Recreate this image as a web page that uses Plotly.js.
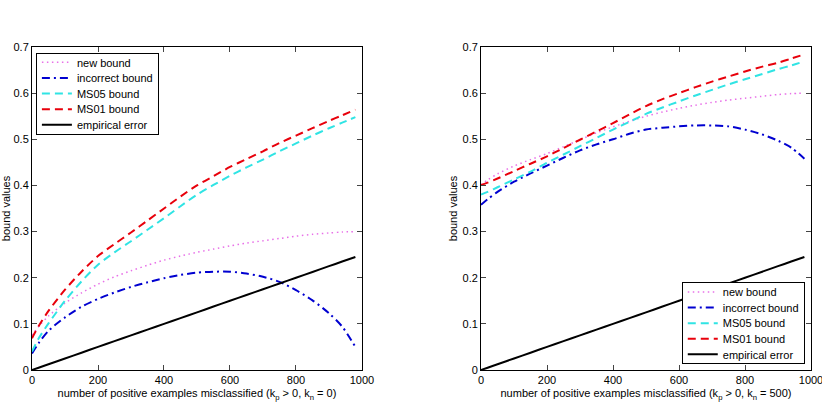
<!DOCTYPE html>
<html>
<head>
<meta charset="utf-8">
<script src="https://cdn.plot.ly/plotly-3.0.1.min.js"></script>
<style>html,body{margin:0;padding:0;background:#fff;overflow:hidden;}#wrap{width:822px;height:410px;overflow:hidden;}#chart{width:835px;height:410px;}</style>
</head>
<body>
<div id="wrap"><div id="chart"></div></div>
<script>
// number of positive examples misclassified
const xVals = [0, 20, 50, 100, 150, 200, 250, 300, 350, 400, 450, 500, 550, 600, 650, 700, 750, 800, 850, 900, 940, 980];

// Left panel: k_p > 0, k_n = 0
const leftNew       = [0.075, 0.094, 0.117, 0.145, 0.167, 0.186, 0.202, 0.215, 0.227, 0.238, 0.247, 0.255, 0.262, 0.269, 0.275, 0.280, 0.285, 0.290, 0.294, 0.297, 0.299, 0.300];
const leftIncorrect = [0.036, 0.058, 0.085, 0.114, 0.137, 0.154, 0.168, 0.180, 0.190, 0.199, 0.206, 0.211, 0.213, 0.213, 0.209, 0.202, 0.191, 0.173, 0.151, 0.123, 0.094, 0.050];
const leftMS05      = [0.040, 0.068, 0.101, 0.150, 0.192, 0.228, 0.255, 0.279, 0.304, 0.329, 0.355, 0.380, 0.401, 0.421, 0.439, 0.456, 0.474, 0.491, 0.508, 0.524, 0.536, 0.548];
const leftMS01      = [0.069, 0.095, 0.128, 0.174, 0.213, 0.247, 0.273, 0.298, 0.324, 0.350, 0.376, 0.400, 0.420, 0.440, 0.457, 0.474, 0.492, 0.508, 0.524, 0.540, 0.552, 0.564];
const leftEmpirical = [0, 0.005, 0.0125, 0.025, 0.0375, 0.05, 0.0625, 0.075, 0.0875, 0.1, 0.1125, 0.125, 0.1375, 0.15, 0.1625, 0.175, 0.1875, 0.2, 0.2125, 0.225, 0.235, 0.245];

// Right panel: k_p > 0, k_n = 500
const rightNew       = [0.401, 0.412, 0.425, 0.442, 0.456, 0.469, 0.484, 0.499, 0.514, 0.527, 0.539, 0.550, 0.559, 0.567, 0.574, 0.580, 0.585, 0.589, 0.593, 0.597, 0.599, 0.600];
const rightIncorrect = [0.358, 0.370, 0.386, 0.408, 0.426, 0.443, 0.460, 0.476, 0.489, 0.500, 0.512, 0.521, 0.525, 0.528, 0.530, 0.530, 0.528, 0.521, 0.511, 0.497, 0.482, 0.458];
const rightMS05      = [0.380, 0.386, 0.396, 0.413, 0.430, 0.449, 0.467, 0.485, 0.503, 0.521, 0.538, 0.555, 0.569, 0.582, 0.595, 0.607, 0.619, 0.630, 0.641, 0.652, 0.660, 0.669];
const rightMS01      = [0.401, 0.406, 0.415, 0.431, 0.447, 0.463, 0.481, 0.499, 0.517, 0.535, 0.554, 0.572, 0.587, 0.600, 0.613, 0.625, 0.636, 0.647, 0.657, 0.666, 0.675, 0.684];
const rightEmpirical = [0, 0.005, 0.0125, 0.025, 0.0375, 0.05, 0.0625, 0.075, 0.0875, 0.1, 0.1125, 0.125, 0.1375, 0.15, 0.1625, 0.175, 0.1875, 0.2, 0.2125, 0.225, 0.235, 0.245];

const seriesNames = ['new bound', 'incorrect bound', 'MS05 bound', 'MS01 bound', 'empirical error'];
const xTicks = [0, 200, 400, 600, 800, 1000];
const yTicks = [0, 0.1, 0.2, 0.3, 0.4, 0.5, 0.6, 0.7];
const yTickText = ['0', '0.1', '0.2', '0.3', '0.4', '0.5', '0.6', '0.7'];

const styles = [
  {color: '#e870e8', width: 1.5, dash: '1.5px,3.5px'},
  {color: '#0000d0', width: 2, dash: '8px,4px,2px,4px'},
  {color: '#30e4e4', width: 2, dash: '8px,5px'},
  {color: '#e8000b', width: 2, dash: '8px,5px'},
  {color: '#000000', width: 2, dash: 'solid'}
];

const leftSets = [leftNew, leftIncorrect, leftMS05, leftMS01, leftEmpirical];
const rightSets = [rightNew, rightIncorrect, rightMS05, rightMS01, rightEmpirical];

const traces = [];
leftSets.forEach((ys, i) => {
  traces.push({x: xVals, y: ys, type: 'scatter', mode: 'lines', name: seriesNames[i],
    line: Object.assign({shape: 'spline', smoothing: 0.8}, styles[i]), xaxis: 'x', yaxis: 'y', legend: 'legend'});
});
rightSets.forEach((ys, i) => {
  traces.push({x: xVals, y: ys, type: 'scatter', mode: 'lines', name: seriesNames[i],
    line: Object.assign({shape: 'spline', smoothing: 0.8}, styles[i]), xaxis: 'x2', yaxis: 'y2', legend: 'legend2'});
});

const font = {family: 'Liberation Sans, Arial, sans-serif', size: 11, color: '#000'};

function xAxis(domain, title, anchor) {
  return {domain: domain, anchor: anchor, range: [0, 1000], tickvals: xTicks, ticks: 'inside', ticklen: 5,
    showline: true, linecolor: '#000', linewidth: 1, mirror: 'ticks', showgrid: false, zeroline: false,
    ticklabeloverflow: 'allow',
    tickfont: font, title: {text: title, font: font, standoff: 4}, automargin: false};
}
function yAxis(domain, anchor) {
  return {domain: domain, anchor: anchor, range: [0, 0.7], tickvals: yTicks, ticktext: yTickText, ticks: 'inside', ticklen: 5,
    showline: true, linecolor: '#000', linewidth: 1, mirror: 'ticks', showgrid: false, zeroline: false,
    tickfont: font, title: {text: 'bound values', font: font, standoff: 2}, automargin: false};
}

const legendBase = {font: font, bgcolor: '#fff', bordercolor: '#000', borderwidth: 1, itemwidth: 30, traceorder: 'normal', tracegroupgap: 0};

// Figure is slightly wider than the 822px window so the last tick label is cut at the edge like the reference
const layout = {
  width: 835, height: 410,
  margin: {l: 32, r: 24, t: 47, b: 40},
  paper_bgcolor: '#fff', plot_bgcolor: '#fff',
  showlegend: true,
  font: font,
  xaxis: xAxis([0, 0.4236], 'number of positive examples misclassified (k<sub>p</sub> > 0, k<sub>n</sub> = 0)', 'y'),
  yaxis: yAxis([0, 1], 'x'),
  xaxis2: xAxis([0.5764, 1], 'number of positive examples misclassified (k<sub>p</sub> > 0, k<sub>n</sub> = 500)', 'y2'),
  yaxis2: yAxis([0, 1], 'x2'),
  legend: Object.assign({x: 0.005, y: 0.981, xanchor: 'left', yanchor: 'top'}, legendBase),
  legend2: Object.assign({x: 0.992, y: 0.019, xanchor: 'right', yanchor: 'bottom'}, legendBase)
};

function parseTranslate(tf) {
  const m = (tf || '').match(/translate\(\s*([-\d.e]+)[ ,]+([-\d.e]+)\s*\)/);
  return m ? [parseFloat(m[1]), parseFloat(m[2])] : null;
}

// Tighten legend row spacing to match the reference (compact legend)
function compactLegend(cls, anchorBottom) {
  const g = document.querySelector('g.' + cls);
  if (!g) return;
  const bg = g.querySelector('rect.bg');
  if (!bg) return;
  const bgBox = bg.getBoundingClientRect();
  const items = g.querySelectorAll('g.traces');
  const pad = 9, step = 15.6;
  items.forEach((it, i) => {
    const txt = it.querySelector('text.legendtext') || it;
    const r = txt.getBoundingClientRect();
    const cur = (r.top + r.bottom) / 2;
    const want = bgBox.top + pad + i * step;
    const t = parseTranslate(it.getAttribute('transform'));
    if (t) it.setAttribute('transform', 'translate(' + t[0] + ',' + (t[1] + want - cur) + ')');
  });
  const oldH = parseFloat(bg.getAttribute('height'));
  const newH = pad * 2 + (items.length - 1) * step;
  bg.setAttribute('height', newH);
  if (anchorBottom) {
    const t = parseTranslate(g.getAttribute('transform'));
    if (t) g.setAttribute('transform', 'translate(' + t[0] + ',' + (t[1] + oldH - newH) + ')');
  }
}

// Make sure the right-hand "1000" tick label sits on the top layer (nothing may cover it)
function liftEdgeLabel() {
  const svgs = document.querySelectorAll('#chart svg.main-svg');
  if (!svgs.length) return;
  const topSvg = svgs[svgs.length - 1];
  document.querySelectorAll('g.x2tick text').forEach(tx => {
    if (tx.textContent.trim() !== '1000') return;
    const r0 = tx.getBoundingClientRect();
    const g = document.createElementNS('http://www.w3.org/2000/svg', 'g');
    topSvg.appendChild(g);
    g.appendChild(tx);
    tx.style.display = 'block';
    tx.style.opacity = '1';
    tx.style.visibility = 'visible';
    const r1 = tx.getBoundingClientRect();
    g.setAttribute('transform', 'translate(' + (r0.left - r1.left) + ',' + (r0.top - r1.top) + ')');
  });
}

Plotly.newPlot('chart', traces, layout, {displayModeBar: false, staticPlot: true}).then(() => {
  compactLegend('legend', false);
  compactLegend('legend2', true);
  liftEdgeLabel();
});
</script>
</body>
</html>
